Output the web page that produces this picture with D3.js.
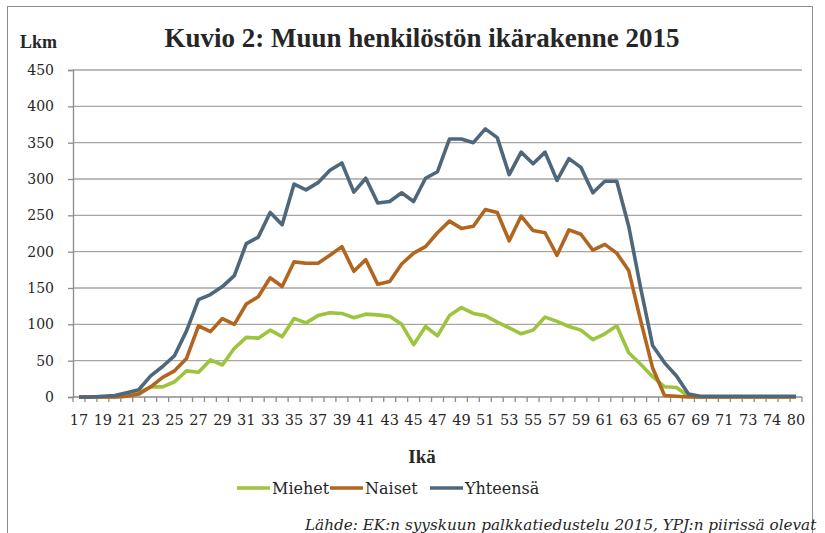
<!DOCTYPE html>
<html lang="fi">
<head>
  <meta charset="UTF-8">
  <title>Kuvio 2</title>
  <script src="https://d3js.org/d3.v7.min.js"></script>
  <style>
    body { margin: 0; background: #fff; }
    text { font-family: "DejaVu Serif", serif; fill: #262626; }
    text.bold { font-family: "Liberation Serif", "DejaVu Serif", serif; font-weight: bold; }
  </style>
</head>
<body>
  <div id="chart"></div>

  <script>
    // ikäluokat (joka toinen näytetään akselilla)
    const ages = ["17","18","19","20","21","22","23","24","25","26","27","28","29","30","31","32","33","34","35","36",
      "37","38","39","40","41","42","43","44","45","46","47","48","49","50","51","52","53","54","55","56",
      "57","58","59","60","61","62","63","64","65","66","67","68","69","70","71","72","73","74","74","75","80"];

    const miehet = [0,0,0,0,1,6,14,14,21,36,34,51,44,67,82,81,92,83,108,102,
      112,116,115,109,114,113,111,100,72,97,84,112,123,115,112,103,95,87,92,110,
      104,97,92,79,87,98,61,45,28,14,13,1,0,0,0,0,0,0,0,0,0];

    const naiset = [0,0,0,0,1,4,14,27,36,53,98,90,108,100,128,138,164,152,186,184,
      184,195,207,173,189,155,159,183,198,207,226,242,232,235,258,254,215,249,229,226,
      195,230,224,202,210,198,174,105,40,2,1,0,0,0,0,0,0,0,0,0,0];

    const yhteensa = [0,0,1,2,6,10,29,42,57,91,134,141,152,167,211,220,254,237,293,285,
      295,312,322,282,301,267,269,281,269,301,310,355,355,350,369,357,306,337,321,337,
      298,328,316,281,297,297,235,150,71,47,29,4,1,1,1,1,1,1,1,1,1];

    const yTicks = [0, 50, 100, 150, 200, 250, 300, 350, 400, 450];

    const seriesNames = ["Miehet", "Naiset", "Yhteensä"];
    const seriesColors = ["#9dc43c", "#b2651f", "#4e677b"];
    const seriesData = [miehet, naiset, yhteensa];

    const width = 825;
    const height = 533;
    const plotL = 73, plotR = 802, plotT = 70, plotB = 397;

    const svg = d3.select("#chart")
      .append("svg")
      .attr("width", width)
      .attr("height", height);

    // kehys
    svg.append("rect")
      .attr("x", 7.5).attr("y", 6.5)
      .attr("width", 805).attr("height", 540)
      .attr("fill", "none")
      .attr("stroke", "#8c8c8c");

    const x = d3.scaleBand()
      .domain(d3.range(ages.length))
      .range([plotL, plotR]);

    const y = d3.scaleLinear()
      .domain([0, 450])
      .range([plotB, plotT]);

    // vaakaviivat
    svg.append("g")
      .selectAll("line")
      .data(yTicks.slice(1))
      .enter()
      .append("line")
      .attr("x1", plotL).attr("x2", plotR)
      .attr("y1", d => y(d)).attr("y2", d => y(d))
      .attr("stroke", "#a6a6a6")
      .attr("stroke-width", 1.3);

    // y-akseli
    const yAxis = svg.append("g")
      .attr("transform", "translate(" + plotL + ",0)")
      .call(d3.axisLeft(y).tickValues(yTicks).tickSize(5).tickPadding(14));
    yAxis.select(".domain").attr("stroke", "#8c8c8c").attr("stroke-width", 1.3);
    yAxis.selectAll(".tick line").attr("stroke", "#8c8c8c").attr("stroke-width", 1.3);
    yAxis.selectAll("text")
      .style("font-size", "14px")
      .attr("fill", "#262626");

    // x-akseli: tikit luokkien välissä
    const xg = svg.append("g");
    xg.append("line")
      .attr("x1", plotL).attr("x2", plotR)
      .attr("y1", plotB).attr("y2", plotB)
      .attr("stroke", "#8c8c8c").attr("stroke-width", 1.3);
    xg.selectAll(".xt")
      .data(d3.range(ages.length + 1))
      .enter()
      .append("line")
      .attr("x1", i => plotL + i * x.step()).attr("x2", i => plotL + i * x.step())
      .attr("y1", plotB).attr("y2", plotB + 5)
      .attr("stroke", "#8c8c8c").attr("stroke-width", 1.3);
    xg.selectAll(".xl")
      .data(ages.map((a, i) => ({ a, i })).filter(d => d.i % 2 === 0))
      .enter()
      .append("text")
      .attr("x", d => x(d.i) + x.bandwidth() / 2)
      .attr("y", 425)
      .attr("text-anchor", "middle")
      .style("font-size", "14.5px")
      .text(d => d.a);

    // viivat
    const line = d3.line()
      .x((d, i) => x(i) + x.bandwidth() / 2)
      .y(d => y(d));

    seriesData.forEach((s, k) => {
      svg.append("path")
        .datum(s)
        .attr("fill", "none")
        .attr("stroke", seriesColors[k])
        .attr("stroke-width", 3.6)
        .attr("stroke-linejoin", "round")
        .attr("d", line);
    });

    // otsikot
    function fit(sel, w) {
      const len = sel.node().getComputedTextLength();
      const fs = parseFloat(sel.style("font-size"));
      sel.style("font-size", (fs * w / len) + "px");
    }

    const title = svg.append("text")
      .attr("class", "bold")
      .attr("x", 422).attr("y", 47)
      .attr("text-anchor", "middle")
      .style("font-size", "24px")
      .text("Kuvio 2: Muun henkilöstön ikärakenne 2015");
    fit(title, 515);

    svg.append("text")
      .attr("class", "bold")
      .attr("x", 20).attr("y", 48)
      .style("font-size", "18px")
      .text("Lkm");

    svg.append("text")
      .attr("class", "bold")
      .attr("x", 422).attr("y", 463)
      .attr("text-anchor", "middle")
      .style("font-size", "19px")
      .text("Ikä");

    // selite
    const legendX = [237, 330, 430];
    const legend = svg.selectAll(".leg")
      .data(seriesNames)
      .enter()
      .append("g")
      .attr("transform", (d, i) => "translate(" + legendX[i] + ",488)");
    legend.append("line")
      .attr("x1", 0).attr("x2", 33)
      .attr("stroke", (d, i) => seriesColors[i])
      .attr("stroke-width", 3.6);
    legend.append("text")
      .attr("x", 35).attr("y", 6)
      .style("font-size", "16px")
      .text(d => d);

    const src = svg.append("text")
      .attr("x", 305).attr("y", 530)
      .style("font-size", "15px")
      .style("font-style", "italic")
      .text("Lähde: EK:n syyskuun palkkatiedustelu 2015, YPJ:n piirissä olevat");
    fit(src, 512);
  </script>
</body>
</html>
